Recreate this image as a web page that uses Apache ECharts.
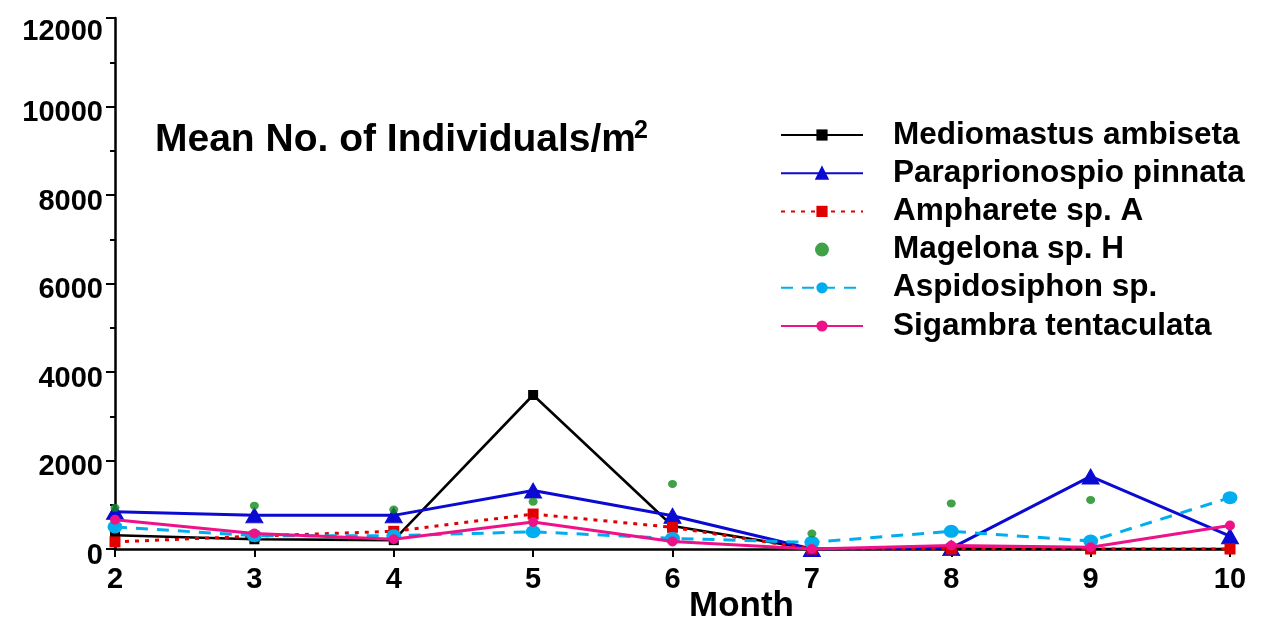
<!DOCTYPE html>
<html>
<head>
<meta charset="utf-8">
<script src="https://cdn.jsdelivr.net/npm/echarts@6/dist/echarts.min.js"></script>
<style>html,body{margin:0;padding:0;background:#fff}#c{width:1264px;height:625px}</style>
</head>
<body>
<div id="c"></div>
<script>
const months = [2, 3, 4, 5, 6, 7, 8, 9, 10];
const yTicks = [0, 2000, 4000, 6000, 8000, 10000, 12000];
const seriesNames = ['Mediomastus ambiseta', 'Paraprionospio pinnata', 'Ampharete sp. A', 'Magelona sp. H', 'Aspidosiphon sp.', 'Sigambra tentaculata'];
const mediomastus = [310, 220, 200, 3480, 520, 0, 10, 0, 0];
const paraprionospio = [840, 760, 760, 1320, 750, 0, 20, 1640, 290];
const ampharete = [160, 290, 400, 790, 490, 0, 0, 0, 0];
const magelona = [930, 980, 890, 1070, 1470, 350, 1030, 1110, null];
const aspidosiphon = [500, 300, 300, 390, 240, 150, 400, 180, 1160];
const sigambra = [660, 350, 220, 610, 170, 0, 80, 40, 530];

const pair = arr => months.map((m, i) => [m, arr[i]]);
const TRI = 'path://M8,0L16,14L0,14Z';

const chart = echarts.init(document.getElementById('c'), null, {renderer: 'canvas'});
const FONT = 'Liberation Sans, Arial, sans-serif';
chart.setOption({
  animation: false,
  backgroundColor: '#fff',
  grid: {left: 115, right: 34, top: 18, bottom: 76, containLabel: false},
  xAxis: {
    type: 'value', min: 2, max: 10, interval: 1,
    axisLine: {lineStyle: {color: '#000', width: 2.5}},
    axisTick: {show: true, length: 8, lineStyle: {color: '#000', width: 2}},
    axisLabel: {color: '#000', fontSize: 29, fontWeight: 'bold', fontFamily: FONT, margin: 16,
      formatter: v => months.includes(v) ? String(v) : ''},
    splitLine: {show: false}
  },
  yAxis: {
    type: 'value', min: yTicks[0], max: yTicks[yTicks.length - 1], interval: 2000,
    axisLine: {show: true, lineStyle: {color: '#000', width: 2.5}},
    axisTick: {show: true, length: 9, lineStyle: {color: '#000', width: 2}},
    minorTick: {show: true, splitNumber: 2, length: 5, lineStyle: {color: '#000', width: 2}},
    axisLabel: {color: '#000', fontSize: 29, fontWeight: 'bold', fontFamily: FONT, margin: 12,
      padding: [13, 0, 0, 0],
      formatter: v => yTicks.includes(v) ? (v === 12000 ? '{t|' + v + '}' : String(v)) : '',
      rich: {t: {fontSize: 29, fontWeight: 'bold', fontFamily: FONT, color: '#000', padding: [14, 0, 0, 0]}}},
    splitLine: {show: false}
  },
  legend: {
    orient: 'vertical', left: 780, top: 119, padding: 0,
    itemWidth: 82, itemHeight: 14, itemGap: 6.2,
    textStyle: {color: '#000', fontSize: 31.5, fontWeight: 'bold', fontFamily: FONT, lineHeight: 30, padding: [0, 0, 0, 25]},
    data: seriesNames
  },
  series: [
    {name: seriesNames[0], type: 'line', data: pair(mediomastus), z: 3,
      symbol: 'rect', symbolSize: 10,
      lineStyle: {color: '#000', width: 2.6}, itemStyle: {color: '#000'}},
    {name: seriesNames[1], type: 'line', data: pair(paraprionospio), z: 4,
      symbol: TRI, symbolSize: [17, 15],
      lineStyle: {color: '#0a0ad2', width: 3}, itemStyle: {color: '#0a0ad2', borderColor: '#0a0ad2', borderWidth: 1}},
    {name: seriesNames[2], type: 'line', data: pair(ampharete), z: 5,
      symbol: 'rect', symbolSize: 11,
      lineStyle: {color: '#e00000', width: 3, type: [4, 6]}, itemStyle: {color: '#e00000'}},
    {name: seriesNames[3], type: 'scatter', data: pair(magelona), z: 8,
      symbol: 'circle', symbolSize: [9, 8],
      itemStyle: {color: '#118a1a'}},
    {name: seriesNames[4], type: 'line', data: pair(aspidosiphon), z: 6,
      symbol: 'circle', symbolSize: [15, 13],
      lineStyle: {color: '#00aeef', width: 3, type: [12, 9]}, itemStyle: {color: '#00aeef'}},
    {name: seriesNames[5], type: 'line', data: pair(sigambra), z: 7,
      symbol: 'circle', symbolSize: 10,
      lineStyle: {color: '#ee1188', width: 3}, itemStyle: {color: '#ee1188'}}
  ],
  graphic: [
    {type: 'text', left: 155, top: 121, style: {text: 'Mean No. of Individuals/m', fontSize: 39, fontWeight: 'bold', fontFamily: FONT, fill: '#000'}},
    {type: 'text', left: 634, top: 119, style: {text: '2', fontSize: 25, fontWeight: 'bold', fontFamily: FONT, fill: '#000'}},
    {type: 'text', left: 689, top: 589, style: {text: 'Month', fontSize: 35, fontWeight: 'bold', fontFamily: FONT, fill: '#000'}}
  ]
});
</script>
</body>
</html>
